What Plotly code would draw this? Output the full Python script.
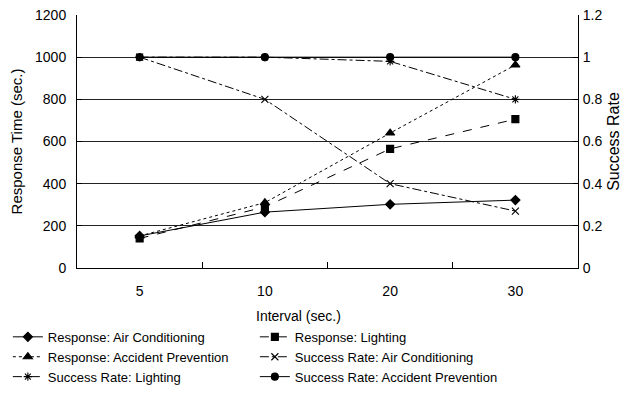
import plotly.graph_objects as go

intervals = ["5", "10", "20", "30"]
resp_ac = [152, 265, 302, 322]
resp_light = [140, 290, 565, 706]
resp_accident = [152, 310, 640, 963]
sr_ac = [1.0, 0.8, 0.4, 0.27]
sr_light = [1.0, 1.0, 0.98, 0.8]
sr_accident = [1.0, 1.0, 1.0, 1.0]

left_ticks = [0, 200, 400, 600, 800, 1000, 1200]
grid_vals = [200, 400, 600, 800, 1000]
right_ticks = [0, 0.2, 0.4, 0.6, 0.8, 1.0, 1.2]

FONT = "Liberation Sans, Arial, sans-serif"
K = "black"

fig = go.Figure()

def add(name, y, dash, symbol, size, axis, lw=1):
    fig.add_trace(go.Scatter(
        x=intervals, y=y, name=name, mode="lines+markers", yaxis=axis,
        line=dict(color=K, width=lw, dash=dash),
        marker=dict(symbol=symbol, size=size, color=K,
                    line=dict(color=K, width=1.1)),
    ))

add("Response: Air Conditioning", resp_ac, "solid", "diamond", 7, "y")
add("Response: Lighting", resp_light, "dash", "square", 7, "y")
add("Response: Accident Prevention", resp_accident, "dot", "triangle-up", 8, "y")
add("Success Rate: Air Conditioning", sr_ac, "dashdot", "x-thin", 7, "y2")
add("Success Rate: Lighting", sr_light, "dashdot", "asterisk", 7, "y2")
add("Success Rate: Accident Prevention", sr_accident, "solid", "circle", 7, "y2")

# page body has an 8px default margin, so the figure is 8px smaller
fig.update_layout(
    width=624, height=386,
    margin=dict(l=69, r=54, t=7, b=126, autoexpand=False),
    paper_bgcolor="white", plot_bgcolor="white",
    font=dict(family=FONT, size=13, color=K),
    showlegend=True,
    xaxis=dict(
        type="category", range=[-0.5, 3.5], tickson="boundaries",
        ticks="inside", ticklen=6, tickcolor=K, automargin=False,
        showline=True, linecolor=K, linewidth=1, mirror=False,
        showgrid=False, tickfont=dict(size=14), ticklabelstandoff=10,
        ticklabeloverflow="allow",
    ),
    yaxis=dict(
        range=[0, 1200], tickvals=left_ticks, ticks="inside", ticklen=5,
        tickcolor=K, showline=True, linecolor=K, linewidth=1, automargin=False,
        showgrid=False, zeroline=False, tickfont=dict(size=14),
        ticklabelstandoff=7, ticklabeloverflow="allow",
        title=dict(text="Response Time (sec.)", font=dict(size=15), standoff=8),
    ),
    yaxis2=dict(
        range=[0, 1.2], tickvals=right_ticks, overlaying="y", side="right",
        ticks="inside", ticklen=5, tickcolor=K, showline=True, linecolor=K,
        linewidth=1, showgrid=False, zeroline=False, tickfont=dict(size=14),
        automargin=False, ticklabelstandoff=1, ticklabeloverflow="allow",
        title=dict(text="Success Rate", font=dict(size=16), standoff=6),
    ),
    yaxis3=dict(
        range=[0, 1200], tickvals=grid_vals, overlaying="y", showgrid=True,
        gridcolor="#222", gridwidth=1.2, showticklabels=False, ticks="",
        zeroline=False, showline=False, automargin=False,
    ),
    legend=dict(
        orientation="h", x=-0.138, xanchor="left", y=-0.213, yanchor="top",
        entrywidth=202, itemwidth=30, tracegroupgap=0,
        font=dict(size=13), bgcolor="rgba(0,0,0,0)",
    ),
    annotations=[dict(
        text="Interval (sec.)", xref="paper", yref="paper",
        x=0.443, y=-0.19, xanchor="center", yanchor="middle",
        showarrow=False, font=dict(size=14),
    )],
)

fig.add_trace(go.Scatter(x=intervals, y=[None]*4, yaxis="y3",
                         showlegend=False, hoverinfo="skip"))

fig.write_html("out.html")
